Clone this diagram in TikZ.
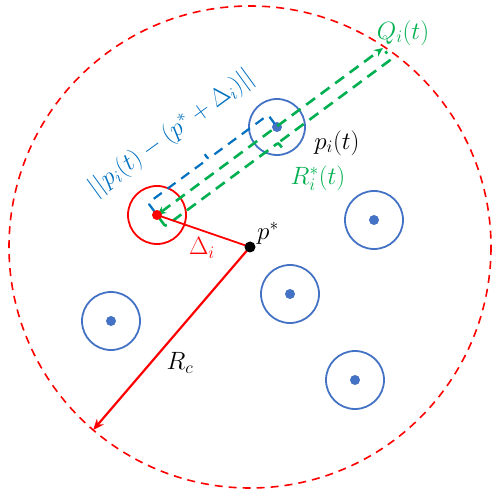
\documentclass[tikz,border=0pt]{standalone}
\usepackage{fix-cm}
\usetikzlibrary{calc,arrows.meta}
\definecolor{cred}{HTML}{FF0000}
\definecolor{cblue}{HTML}{4472C4}
\definecolor{lblue}{HTML}{0070C0}
\definecolor{cgreen}{HTML}{00B050}
\tikzset{
  bigcirc/.style={draw=cred,line width=1.6pt,dash pattern=on 8pt off 6pt},
  agent/.style={draw=cblue,line width=1.8pt},
  agentdot/.style={fill=cblue},
  bluebrace/.style={draw=lblue,line width=2.2pt,dash pattern=on 10pt off 7pt,rounded corners=2pt},
  greenline/.style={draw=cgreen,line width=2.6pt,dash pattern=on 11pt off 7pt},
  redline/.style={draw=cred,line width=1.8pt},
  lbl/.style={font=\fontsize{25}{30}\selectfont,inner sep=0pt}
}
\begin{document}
\begin{tikzpicture}[x=1pt,y=-1pt]
\useasboundingbox (0,0) rectangle (495,494);
\coordinate (c) at (250,247);
\coordinate (D) at (157,215);
\coordinate (P) at (277,127);
\coordinate (Q) at (383,48);
\coordinate (rc) at ($(c)+(130.6:241)$);
\coordinate (a2) at (374,220);
\coordinate (a3) at (290,294);
\coordinate (a4) at (111,321);
\coordinate (a5) at (355,380);
% big dashed circle
\draw[bigcirc] (c) circle[radius=241];
% agents
\draw[agent] (P) circle[radius=28];
\fill[agentdot] (P) circle[radius=5];
\foreach \n in {a2,a3,a4,a5}{
  \draw[agent] (\n) circle[radius=29];
  \fill[agentdot] (\n) circle[radius=5];
}
% red circle at p*+Delta
\draw[redline] (D) circle[radius=29];
% blue brace
\coordinate (M) at ($(D)!0.5!(P)$);
\draw[bluebrace] ($(D)!4pt!90:(P)$) -- ($(D)!15pt!90:(P)$) -- ($(M)!15pt!90:(P)$) -- ($(M)!22pt!90:(P)$)
  -- ($(M)!15pt!90:(P)$) -- ($(P)!15pt!-90:(D)$) -- ($(P)!4pt!-90:(D)$);
% green brace
\coordinate (N) at ($(D)!0.5!(Q)$);
\draw[greenline,rounded corners=2pt] ($(D)!4pt!-90:(Q)$) -- ($(D)!14pt!-90:(Q)$) -- ($(N)!14pt!-90:(Q)$) -- ($(N)!21pt!-90:(Q)$)
  -- ($(N)!14pt!-90:(Q)$) -- ($(Q)!14pt!90:(D)$) -- ($(Q)!4pt!90:(D)$);
% green arrow
\draw[greenline,{Stealth[length=9pt,width=8pt]}-{Stealth[length=9pt,width=8pt]}] (D) -- (Q);
% Delta and Rc
\draw[redline] (c) -- (D);
\draw[redline,line width=2.2pt,-{Stealth[length=11pt,width=9pt]}] (c) -- (rc);
\fill[cred] (D) circle[radius=5];
\fill[black] (c) circle[radius=5.5];
% labels
\node[lbl,text=cgreen] (lq) at (403,33) {$Q_i(t)$};
\node[lbl] (lp) at (337,143) {$p_i(t)$};
\node[lbl,text=cgreen] (lr) at (318,178) {$R_i^*(t)$};
\node[lbl] (lps) at (268,233) {$p^*$};
\node[lbl,text=cred] (ld) at (202,248) {$\Delta_i$};
\node[lbl] (lrc) at (180,363) {$R_c$};
\node[lbl,text=lblue,rotate=36] (lb) at (172,133) {$||p_i(t)-(p^*+\Delta_i)||$};
\end{tikzpicture}
\end{document}
